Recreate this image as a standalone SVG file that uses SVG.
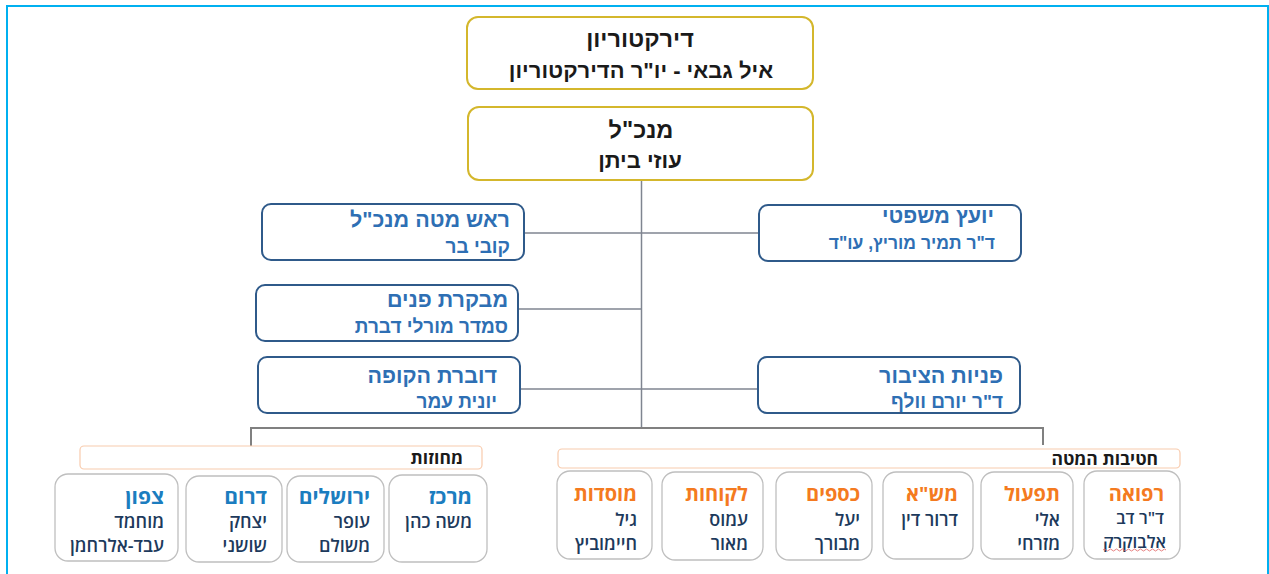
<svg xmlns="http://www.w3.org/2000/svg" width="1269" height="574" viewBox="0 0 1269 574">
<style>
.frame{fill:none;stroke:#00b0f0;stroke-width:2}
.top{fill:#fff;stroke:#d4b72c;stroke-width:2}
.mid{fill:#fff;stroke:#2f5a8a;stroke-width:2}
.hdr{fill:#fff;stroke:#f8cbad;stroke-width:1.2}
.card{fill:#fff;stroke:#bfbfbf;stroke-width:1.3}
.conn{fill:none;stroke:#7f8590;stroke-width:1.5}
.bar{fill:none;stroke:#808080;stroke-width:2}
text{font-family:"Liberation Sans",Arial,sans-serif;font-weight:bold}
.t1{font-size:23.5px;fill:#1a1a1a;text-anchor:middle}
.t2{font-size:22px;fill:#1a1a1a;text-anchor:middle}
.bt{font-size:21.5px;fill:#2e6fb4;text-anchor:start}
.bn{font-size:19px;fill:#2e6fb4;text-anchor:start}
.h{font-size:17.5px;fill:#1a1a1a;text-anchor:start;font-family:"Open Sans","Liberation Sans",sans-serif}
.ot{font-size:20px;fill:#f47a20;text-anchor:start;font-family:"Open Sans","Liberation Sans",sans-serif}
.dt{font-size:21px;fill:#1b7dbf;text-anchor:start;font-family:"Open Sans","Liberation Sans",sans-serif}
.nm{font-size:18px;fill:#1d3a5c;text-anchor:start;font-family:"Open Sans","Liberation Sans",sans-serif;font-weight:600}
</style>
<rect width="1269" height="574" fill="#fff"/>
<path class="frame" d="M7,574 V6 H1268 V574"/>

<g id="connectors">
<path class="conn" d="M641.5,180 V428"/>
<path class="conn" d="M524,233 H759"/>
<path class="conn" d="M518,309 H641.5"/>
<path class="conn" d="M520,389 H758"/>
<path class="bar" d="M251,446 V428 H1043 V445"/>
</g>

<g id="board">
<rect class="top" x="467" y="17" width="346" height="72" rx="11"/>
<text class="t1" x="640" y="47" direction="rtl">דירקטוריון</text>
<text class="t2" x="641" y="78" direction="rtl">איל גבאי - יו"ר הדירקטוריון</text>
</g>
<g id="ceo">
<rect class="top" x="468" y="107" width="345" height="73" rx="11"/>
<text class="t1" x="641" y="138" direction="rtl">מנכ"ל</text>
<text class="t2" x="640" y="168" direction="rtl">עוזי ביתן</text>
</g>

<g id="chief-of-staff">
<rect class="mid" x="262" y="204" width="262" height="56" rx="9"/>
<text class="bt" x="510" y="227" direction="rtl">ראש מטה מנכ"ל</text>
<text class="bn" x="510" y="253" direction="rtl">קובי בר</text>
</g>
<g id="audit">
<rect class="mid" x="256" y="285" width="262" height="56" rx="9"/>
<text class="bt" x="508" y="307" direction="rtl">מבקרת פנים</text>
<text class="bn" x="508" y="333" direction="rtl">סמדר מורלי דברת</text>
</g>
<g id="spokes">
<rect class="mid" x="258" y="357" width="262" height="56" rx="9"/>
<text class="bt" x="497" y="383" direction="rtl">דוברת הקופה</text>
<text class="bn" x="497" y="408" direction="rtl">יונית עמר</text>
</g>
<g id="legal">
<rect class="mid" x="759" y="205" width="262" height="56" rx="9"/>
<text class="bt" x="994" y="223" direction="rtl">יועץ משפטי</text>
<text class="bn" x="995" y="249" direction="rtl" style="font-size:17.5px">ד"ר תמיר מוריץ, עו"ד</text>
</g>
<g id="public">
<rect class="mid" x="758" y="357" width="262" height="56" rx="9"/>
<text class="bt" x="1003" y="383" direction="rtl">פניות הציבור</text>
<text class="bn" x="1003" y="408" direction="rtl">ד"ר יורם וולף</text>
</g>

<g id="districts-header">
<rect class="hdr" x="80" y="446" width="402" height="23" rx="4"/>
<text class="h" x="463" y="464" direction="rtl">מחוזות</text>
</g>
<g id="staff-header">
<rect class="hdr" x="558" y="449" width="622" height="19" rx="4"/>
<text class="h" x="1158" y="465" direction="rtl">חטיבות המטה</text>
</g>

<g id="merkaz">
<rect class="card" x="389" y="475" width="98" height="87" rx="13"/>
<text class="dt" x="472" y="504" direction="rtl">מרכז</text>
<text class="nm" x="472" y="528" direction="rtl">משה כהן</text>
</g>
<g id="jerusalem">
<rect class="card" x="287" y="476" width="97" height="86" rx="13"/>
<text class="dt" x="370" y="504" direction="rtl">ירושלים</text>
<text class="nm" x="370" y="528" direction="rtl">עופר</text>
<text class="nm" x="370" y="552" direction="rtl">משולם</text>
</g>
<g id="darom">
<rect class="card" x="186" y="476" width="96" height="86" rx="13"/>
<text class="dt" x="267" y="504" direction="rtl">דרום</text>
<text class="nm" x="267" y="528" direction="rtl">יצחק</text>
<text class="nm" x="267" y="552" direction="rtl">שושני</text>
</g>
<g id="tzafon">
<rect class="card" x="55" y="474" width="123" height="87" rx="13"/>
<text class="dt" x="164" y="504" direction="rtl">צפון</text>
<text class="nm" x="164" y="528" direction="rtl">מוחמד</text>
<text class="nm" x="164" y="552" direction="rtl">עבד-אלרחמן</text>
</g>

<g id="mosadot">
<rect class="card" x="557" y="471" width="95" height="88" rx="13"/>
<text class="ot" x="637" y="501" direction="rtl">מוסדות</text>
<text class="nm" x="637" y="526" direction="rtl">גיל</text>
<text class="nm" x="637" y="550" direction="rtl">חיימוביץ</text>
</g>
<g id="lakochot">
<rect class="card" x="662" y="472" width="101" height="88" rx="13"/>
<text class="ot" x="748" y="501" direction="rtl">לקוחות</text>
<text class="nm" x="748" y="526" direction="rtl">עמוס</text>
<text class="nm" x="748" y="550" direction="rtl">מאור</text>
</g>
<g id="ksafim">
<rect class="card" x="776" y="472" width="96" height="88" rx="13"/>
<text class="ot" x="860" y="501" direction="rtl">כספים</text>
<text class="nm" x="860" y="526" direction="rtl">יעל</text>
<text class="nm" x="860" y="550" direction="rtl">מבורך</text>
</g>
<g id="mashab">
<rect class="card" x="883" y="472" width="90" height="87" rx="13"/>
<text class="ot" x="958" y="501" direction="rtl">מש"א</text>
<text class="nm" x="958" y="526" direction="rtl">דרור דין</text>
</g>
<g id="tiful">
<rect class="card" x="981" y="472" width="92" height="87" rx="13"/>
<text class="ot" x="1060" y="501" direction="rtl">תפעול</text>
<text class="nm" x="1060" y="526" direction="rtl">אלי</text>
<text class="nm" x="1060" y="550" direction="rtl">מזרחי</text>
</g>
<g id="refua">
<rect class="card" x="1084" y="471" width="96" height="88" rx="13"/>
<text class="ot" x="1164" y="501" direction="rtl">רפואה</text>
<text class="nm" x="1164" y="524" direction="rtl" style="font-size:17px">ד"ר דב</text>
<text class="nm" x="1166" y="548" direction="rtl" style="font-size:17px">אלבוקרק</text>
<path d="M1103,550 q1.5,-2 3,0 t3,0 t3,0 t3,0 t3,0 t3,0 t3,0 t3,0 t3,0 t3,0 t3,0 t3,0 t3,0 t3,0 t3,0 t3,0 t3,0 t3,0 t3,0 t3,0 t3,0" fill="none" stroke="#e06060" stroke-width="0.8"/>
</g>
</svg>
